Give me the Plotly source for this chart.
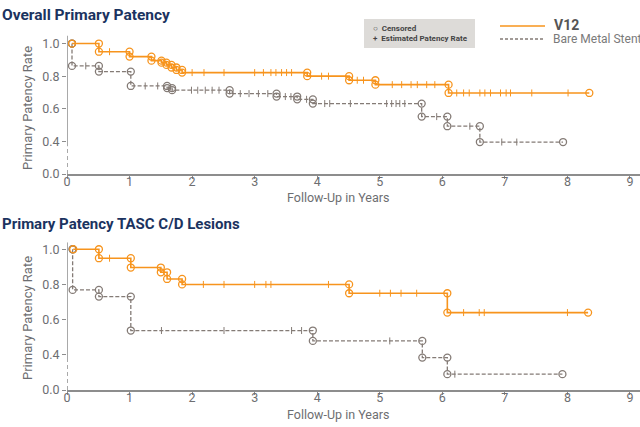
import plotly.graph_objects as go
from plotly.subplots import make_subplots

# ——— data ———
# top panel: overall primary patency
top_v12_start = 0.08
top_v12_times = [0.51, 1.0, 1.35, 1.51, 1.59, 1.67, 1.75, 1.84, 3.84, 4.51, 4.93, 6.10]
top_v12_surv = [0.95, 0.92, 0.895, 0.883, 0.869, 0.853, 0.838, 0.822, 0.80, 0.775, 0.748, 0.697]
top_v12_end = 8.35
top_v12_ticks = [0.68, 2.0, 2.19, 2.51, 3.0, 3.14, 3.26, 3.34, 3.43, 3.51, 3.59,
                 4.07, 4.18, 4.64, 4.74, 5.2, 5.35, 5.5, 5.6, 5.75, 5.88,
                 6.23, 6.34, 6.43, 6.6, 6.68, 6.77, 6.93, 7.02, 7.09, 7.43, 8.01]

top_bms_start = 0.08
top_bms_times = [0.08, 0.51, 1.02, 1.60, 1.68, 2.60, 3.35, 3.68, 3.93, 5.67, 6.08, 6.60]
top_bms_surv = [0.863, 0.828, 0.74, 0.727, 0.714, 0.693, 0.675, 0.658, 0.632, 0.552, 0.493, 0.396]
top_bms_end = 7.93
top_bms_ticks = [0.3, 1.25, 1.45, 1.99, 2.09, 2.21, 2.32, 2.43, 2.77, 2.91, 3.06, 3.21,
                 3.49, 3.58, 3.83, 4.12, 4.2, 4.53, 5.11, 5.19, 5.26, 5.32, 5.4,
                 5.91, 6.44, 6.95, 7.19]

# bottom panel: TASC C/D lesions
bot_v12_start = 0.1
bot_v12_times = [0.51, 1.02, 1.50, 1.60, 1.84, 4.51, 6.08]
bot_v12_surv = [0.949, 0.896, 0.869, 0.831, 0.80, 0.75, 0.64]
bot_v12_end = 8.33
bot_v12_ticks = [0.68, 2.18, 2.51, 3.0, 3.18, 3.26, 4.18, 5.0, 5.17, 5.34, 5.59,
                 6.34, 6.59, 6.67, 8.0]

bot_bms_start = 0.09
bot_bms_times = [0.09, 0.51, 1.02, 3.93, 5.68, 6.08]
bot_bms_surv = [0.769, 0.731, 0.538, 0.479, 0.384, 0.29]
bot_bms_end = 7.92
bot_bms_ticks = [1.51, 2.51, 3.59, 3.75, 5.16, 6.2]

year_ticks = list(range(0, 10))
rate_tickvals = [0.2, 0.4, 0.6, 0.8, 1.0]
rate_ticktext = ["0.0", "0.4", "0.6", "0.8", "1.0"]

ORANGE = "#f7941d"
GRAY = "#847b76"
AXIS = "#8d8d8d"
LABEL = "#6d6e71"
NAVY = "#1b3360"
FONT = "Roboto"


def step_value(t, start_s, times, surv):
    s = start_s
    for tt, ss in zip(times, surv):
        if t >= tt:
            s = ss
    return s


def add_curve(fig, row, start_t, times, surv, end_t, ticks, color, dash, width):
    xs = [start_t] + times + [end_t]
    ys = [1.0] + surv + [surv[-1]]
    fig.add_trace(go.Scatter(x=xs, y=ys, mode="lines", line_shape="hv",
                             line=dict(color=color, width=width, dash=dash),
                             hoverinfo="skip", showlegend=False), row=row, col=1)
    # circles at each step corner plus start / end
    cx, cy = [start_t], [1.0]
    prev = 1.0
    for t, s in zip(times, surv):
        cx += [t, t]
        cy += [prev, s]
        prev = s
    cx.append(end_t)
    cy.append(surv[-1])
    fig.add_trace(go.Scatter(x=cx, y=cy, mode="markers",
                             marker=dict(symbol="circle-open", size=7, color=color,
                                         line=dict(width=1.3)),
                             hoverinfo="skip", showlegend=False), row=row, col=1)
    ty = [step_value(t, 1.0, times, surv) for t in ticks]
    fig.add_trace(go.Scatter(x=ticks, y=ty, mode="markers",
                             marker=dict(symbol="line-ns", size=5,
                                         line=dict(color=color, width=1)),
                             hoverinfo="skip", showlegend=False), row=row, col=1)


fig = make_subplots(rows=2, cols=1)

add_curve(fig, 1, top_bms_start, top_bms_times, top_bms_surv, top_bms_end,
          top_bms_ticks, GRAY, "4px,2px", 1.3)
add_curve(fig, 1, top_v12_start, top_v12_times, top_v12_surv, top_v12_end,
          top_v12_ticks, ORANGE, "solid", 1.6)
add_curve(fig, 2, bot_bms_start, bot_bms_times, bot_bms_surv, bot_bms_end,
          bot_bms_ticks, GRAY, "4px,2px", 1.3)
add_curve(fig, 2, bot_v12_start, bot_v12_times, bot_v12_surv, bot_v12_end,
          bot_v12_ticks, ORANGE, "solid", 1.6)

H = 427.0
W = 573.0
xax = dict(range=[0, 9.16], tickvals=year_ticks, showline=True, linecolor=AXIS,
           linewidth=1.5, ticks="outside", ticklen=3, tickcolor=AXIS,
           ticklabelstandoff=-8,
           showgrid=False, zeroline=False, tickfont=dict(size=12.5, color=LABEL))
yax = dict(tickvals=rate_tickvals, ticktext=rate_ticktext, showline=False,
           ticks="outside", ticklen=4, tickcolor=AXIS, showgrid=False,
           zeroline=False, tickfont=dict(size=12.5, color=LABEL))

fig.update_layout(
    width=640, height=427,
    margin=dict(l=67, r=0, t=0, b=0, autoexpand=False),
    paper_bgcolor="white", plot_bgcolor="white",
    font=dict(family=FONT, color=LABEL),
    showlegend=False,
    xaxis=dict(xax, domain=[0, 1], anchor="y"),
    xaxis2=dict(xax, domain=[0, 1], anchor="y2"),
    yaxis=dict(yax, range=[0.2, 1.05], domain=[(H - 174) / H, (H - 35.4) / H]),
    yaxis2=dict(yax, range=[0.2, 1.04], domain=[(H - 390) / H, (H - 242.2) / H]),
)

# broken y axis: solid part, then dashed stub down to 0.0
for yref, top in (("y", 1.05), ("y2", 1.04)):
    xref = "x" if yref == "y" else "x2"
    fig.add_shape(type="line", xref=xref, yref=yref, x0=0, x1=0, y0=0.37, y1=top,
                  line=dict(color=AXIS, width=1.5))
    fig.add_shape(type="line", xref=xref, yref=yref, x0=0, x1=0, y0=0.2, y1=0.37,
                  line=dict(color=AXIS, width=1.5, dash="4px,3px"))


def py(p):
    return 1 - p / H


def px_(p):
    return (p - 67) / W


# titles
fig.add_annotation(text="<b>Overall Primary Patency</b>", xref="paper", yref="paper",
                   x=px_(0), y=py(15), xanchor="left", yanchor="middle", showarrow=False,
                   font=dict(size=15.5, color=NAVY, family=FONT))
fig.add_annotation(text="<b>Primary Patency TASC C/D Lesions</b>", xref="paper", yref="paper",
                   x=px_(0), y=py(224), xanchor="left", yanchor="middle", showarrow=False,
                   font=dict(size=15, color=NAVY, family=FONT))

# axis titles
for yy in (108, 318):
    fig.add_annotation(text="Primary Patency Rate", xref="paper", yref="paper",
                       x=px_(27), y=py(yy), textangle=-90, showarrow=False,
                       xanchor="center", yanchor="middle",
                       font=dict(size=13, color=LABEL))
for yy in (197, 414):
    fig.add_annotation(text="Follow-Up in Years", xref="paper", yref="paper",
                       x=px_(338), y=py(yy), showarrow=False,
                       xanchor="center", yanchor="middle",
                       font=dict(size=12.5, color=LABEL))

# symbol key box
fig.add_shape(type="rect", xref="paper", yref="paper", x0=px_(364), x1=px_(475),
              y0=py(48), y1=py(19), fillcolor="#dddbd8", line=dict(width=0), layer="below")
fig.add_annotation(text="<b>○  Censored</b>", xref="paper", yref="paper",
                   x=px_(371), y=py(29), xanchor="left", yanchor="middle",
                   showarrow=False, font=dict(size=8, color="#444444"))
fig.add_annotation(text="<b>+  Estimated Patency Rate</b>", xref="paper", yref="paper",
                   x=px_(371), y=py(39), xanchor="left", yanchor="middle",
                   showarrow=False, font=dict(size=8, color="#444444"))

# series key
fig.add_shape(type="line", xref="paper", yref="paper", x0=px_(500), x1=px_(545),
              y0=py(26), y1=py(26), line=dict(color=ORANGE, width=1.6))
fig.add_shape(type="line", xref="paper", yref="paper", x0=px_(500), x1=px_(545),
              y0=py(39), y1=py(39), line=dict(color=GRAY, width=1.3, dash="3px,2px"))
fig.add_annotation(text="<b>V12</b>", xref="paper", yref="paper",
                   x=px_(552), y=py(25), xanchor="left", yanchor="middle",
                   showarrow=False, font=dict(size=14, color="#555555"))
fig.add_annotation(text="Bare Metal Stent", xref="paper", yref="paper",
                   x=px_(551), y=py(39), xanchor="left", yanchor="middle",
                   showarrow=False, font=dict(size=12, color="#7a7a7a"))

# drop the browser's default 8px page margin so the figure sits at the window origin
fig.write_html("out.html", config={"displayModeBar": False},
               post_script="document.body.style.margin='0px';")
